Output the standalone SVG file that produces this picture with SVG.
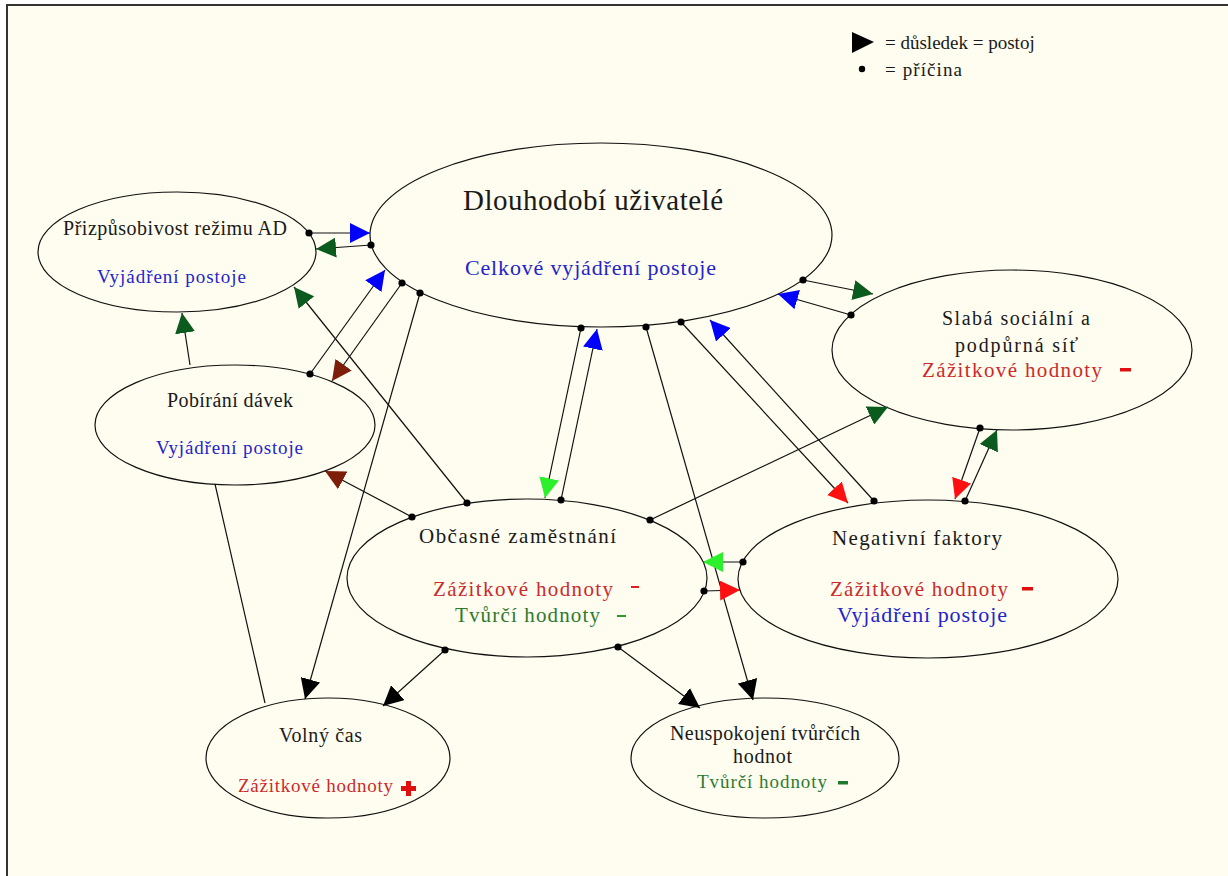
<svg xmlns="http://www.w3.org/2000/svg" width="1228" height="876" viewBox="0 0 1228 876">
<style>
.nd{fill:#fefdf0;stroke:#111;stroke-width:1.2}
text{font-family:"Liberation Serif","Times New Roman",serif}
.t{fill:#1a1a1a;font-size:20px}
.b{fill:#2424c8;font-size:20px}
.r{fill:#cc2a2a;font-size:20px}
.g{fill:#2e7a2e;font-size:20px}
.c line{stroke:#111;stroke-width:1.2}
</style>
<defs>
<marker id="dot" viewBox="-4 -4 8 8" refX="0" refY="0" markerWidth="8" markerHeight="8" markerUnits="userSpaceOnUse"><circle r="3.6" fill="#000"/></marker>
<marker id="aBl" viewBox="0 0 20 20" refX="20" refY="10" markerWidth="20" markerHeight="20" markerUnits="userSpaceOnUse" orient="auto"><path d="M0,0 L20,10 L0,20 z" fill="#0000ff"/></marker>
<marker id="aDg" viewBox="0 0 20 20" refX="20" refY="10" markerWidth="20" markerHeight="20" markerUnits="userSpaceOnUse" orient="auto"><path d="M0,0 L20,10 L0,20 z" fill="#0b5a1e"/></marker>
<marker id="aBr" viewBox="0 0 20 20" refX="20" refY="10" markerWidth="20" markerHeight="20" markerUnits="userSpaceOnUse" orient="auto"><path d="M0,0 L20,10 L0,20 z" fill="#7f1e08"/></marker>
<marker id="aRd" viewBox="0 0 20 20" refX="20" refY="10" markerWidth="20" markerHeight="20" markerUnits="userSpaceOnUse" orient="auto"><path d="M0,0 L20,10 L0,20 z" fill="#ff1010"/></marker>
<marker id="aLg" viewBox="0 0 20 20" refX="20" refY="10" markerWidth="20" markerHeight="20" markerUnits="userSpaceOnUse" orient="auto"><path d="M0,0 L20,10 L0,20 z" fill="#2cf02c"/></marker>
<marker id="aBk" viewBox="0 0 20 20" refX="20" refY="10" markerWidth="20" markerHeight="20" markerUnits="userSpaceOnUse" orient="auto"><path d="M0,0 L20,10 L0,20 z" fill="#000"/></marker>
</defs>
<rect x="0" y="0" width="1228" height="876" fill="#ffffff"/>
<rect x="7" y="5" width="1240" height="900" fill="#fefdf0" stroke="#333" stroke-width="2"/>

<g id="legend">
<path d="M852,32 L852,53 L874,42 z" fill="#000"/>
<text x="885" y="49" class="t" style="font-size:19px">= důsledek = postoj</text>
<circle cx="862" cy="69" r="3.2" fill="#000"/>
<text x="885" y="76" class="t" style="font-size:19px" textLength="77" lengthAdjust="spacing">= příčina</text>
</g>

<g id="dlouhodobi">
<ellipse class="nd" cx="601" cy="235" rx="231" ry="92"/>
<text x="463" y="210" class="t" style="font-size:29px" textLength="260" lengthAdjust="spacing">Dlouhodobí uživatelé</text>
<text x="465" y="275" class="b" style="font-size:22px" textLength="251" lengthAdjust="spacing">Celkové vyjádření postoje</text>
</g>

<g id="prizpusobivost">
<ellipse class="nd" cx="177" cy="252" rx="139" ry="60"/>
<text x="63" y="235" class="t" textLength="224" lengthAdjust="spacing">Přizpůsobivost režimu AD</text>
<text x="97" y="283" class="b" style="font-size:19px" textLength="149" lengthAdjust="spacing">Vyjádření postoje</text>
</g>

<g id="pobirani">
<ellipse class="nd" cx="235" cy="425" rx="140" ry="60"/>
<text x="167" y="407" class="t" textLength="126" lengthAdjust="spacing">Pobírání dávek</text>
<text x="156" y="454" class="b" style="font-size:19px" textLength="147" lengthAdjust="spacing">Vyjádření postoje</text>
</g>

<g id="obcasne">
<ellipse class="nd" cx="527" cy="578" rx="180" ry="79"/>
<text x="419" y="543" class="t" style="font-size:21px" textLength="197" lengthAdjust="spacing">Občasné zaměstnání</text>
<text x="433" y="596" class="r" style="font-size:21px" textLength="180" lengthAdjust="spacing">Zážitkové hodnoty</text>
<rect x="631" y="586" width="8" height="2" fill="#e02020"/>
<text x="455" y="622" class="g" style="font-size:21px" textLength="145" lengthAdjust="spacing">Tvůrčí hodnoty</text>
<rect x="617" y="615" width="9" height="2" fill="#2e9a2e"/>
</g>

<g id="slaba">
<ellipse class="nd" cx="1012" cy="350" rx="180" ry="80"/>
<text x="942" y="325" class="t" textLength="148" lengthAdjust="spacing">Slabá sociální a</text>
<text x="955" y="352" class="t" textLength="123" lengthAdjust="spacing">podpůrná síť</text>
<text x="922" y="377" class="r" style="font-size:21px" textLength="180" lengthAdjust="spacing">Zážitkové hodnoty</text>
<rect x="1120" y="368" width="11" height="3.5" fill="#e01010"/>
</g>

<g id="negativni">
<ellipse class="nd" cx="928" cy="579" rx="190" ry="79"/>
<text x="832" y="545" class="t" style="font-size:21px" textLength="170" lengthAdjust="spacing">Negativní faktory</text>
<text x="830" y="596" class="r" style="font-size:21px" textLength="178" lengthAdjust="spacing">Zážitkové hodnoty</text>
<rect x="1022" y="587" width="11" height="3.5" fill="#e01010"/>
<text x="837" y="622" class="b" style="font-size:22px" textLength="170" lengthAdjust="spacing">Vyjádření postoje</text>
</g>

<g id="volny">
<ellipse class="nd" cx="328" cy="758" rx="122" ry="60"/>
<text x="279" y="742" class="t" textLength="83" lengthAdjust="spacing">Volný čas</text>
<text x="238" y="792" class="r" style="font-size:19px" textLength="155" lengthAdjust="spacing">Zážitkové hodnoty</text>
<path d="M406,781 h5 v5 h5 v5 h-5 v5 h-5 v-5 h-5 v-5 h5 z" fill="#e01010"/>
</g>

<g id="neuspokojeni">
<ellipse class="nd" cx="765" cy="758" rx="134" ry="60"/>
<text x="670" y="740" class="t" textLength="190" lengthAdjust="spacing">Neuspokojení tvůrčích</text>
<text x="733" y="763" class="t" textLength="59" lengthAdjust="spacing">hodnot</text>
<text x="697" y="788" class="g" style="font-size:19px" textLength="130" lengthAdjust="spacing">Tvůrčí hodnoty</text>
<rect x="838" y="781" width="10" height="3.5" fill="#1e7a2e"/>
</g>

<g id="connectors" class="c">
<line x1="309" y1="233" x2="370" y2="233" marker-start="url(#dot)" marker-end="url(#aBl)"/>
<line x1="371" y1="245" x2="316" y2="249" marker-start="url(#dot)" marker-end="url(#aDg)"/>
<line x1="310" y1="374" x2="385" y2="270" marker-start="url(#dot)" marker-end="url(#aBl)"/>
<line x1="402" y1="283" x2="332" y2="381" marker-start="url(#dot)" marker-end="url(#aBr)"/>
<line x1="420" y1="293" x2="305" y2="699" marker-start="url(#dot)" marker-end="url(#aBk)"/>
<line x1="467" y1="503" x2="294" y2="287" marker-start="url(#dot)" marker-end="url(#aDg)"/>
<line x1="190" y1="365" x2="182" y2="313" marker-end="url(#aDg)"/>
<line x1="412" y1="517" x2="325" y2="471" marker-start="url(#dot)" marker-end="url(#aBr)"/>
<line x1="265" y1="703" x2="215" y2="484"/>
<line x1="445" y1="650" x2="383" y2="706" marker-start="url(#dot)" marker-end="url(#aBk)"/>
<line x1="618" y1="647" x2="700" y2="708" marker-start="url(#dot)" marker-end="url(#aBk)"/>
<line x1="646" y1="327" x2="753" y2="700" marker-start="url(#dot)" marker-end="url(#aBk)"/>
<line x1="581" y1="328" x2="545" y2="498" marker-start="url(#dot)" marker-end="url(#aLg)"/>
<line x1="561" y1="500" x2="597" y2="329" marker-start="url(#dot)" marker-end="url(#aBl)"/>
<line x1="681" y1="322" x2="848" y2="503" marker-start="url(#dot)" marker-end="url(#aRd)"/>
<line x1="874" y1="501" x2="710" y2="320" marker-start="url(#dot)" marker-end="url(#aBl)"/>
<line x1="650" y1="520" x2="888" y2="407" marker-start="url(#dot)" marker-end="url(#aDg)"/>
<line x1="851" y1="315" x2="778" y2="294" marker-start="url(#dot)" marker-end="url(#aBl)"/>
<line x1="803" y1="280" x2="873" y2="294" marker-start="url(#dot)" marker-end="url(#aDg)"/>
<line x1="980" y1="428" x2="955" y2="499" marker-start="url(#dot)" marker-end="url(#aRd)"/>
<line x1="965" y1="501" x2="997" y2="430" marker-start="url(#dot)" marker-end="url(#aDg)"/>
<line x1="743" y1="562" x2="703" y2="562" marker-start="url(#dot)" marker-end="url(#aLg)"/>
<line x1="704" y1="591" x2="740" y2="590" marker-start="url(#dot)" marker-end="url(#aRd)"/>
</g>
</svg>
